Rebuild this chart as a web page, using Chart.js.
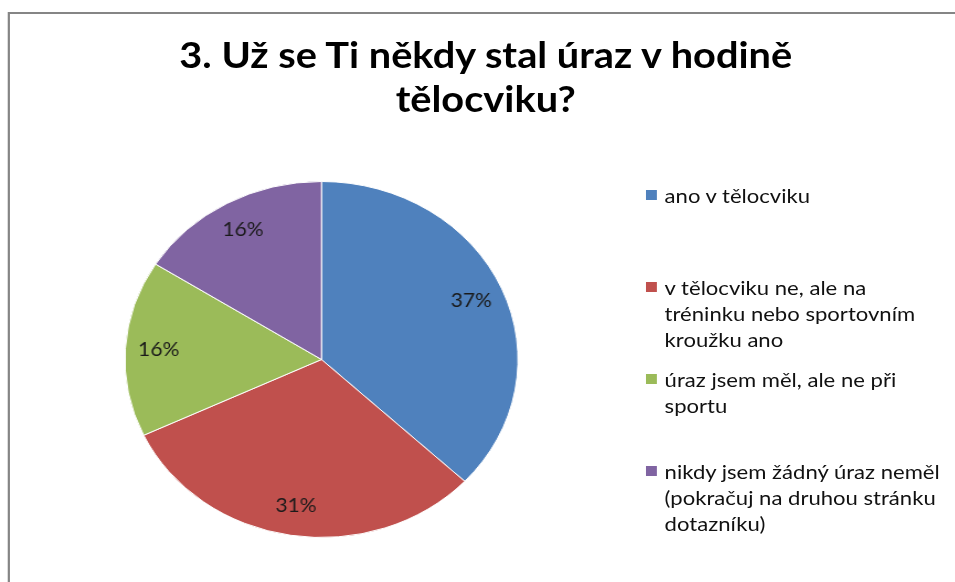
<!DOCTYPE html>
<html>
<head>
<meta charset="utf-8">
<script src="https://cdn.jsdelivr.net/npm/chart.js@4/dist/chart.umd.min.js"></script>
<style>
  html, body { margin: 0; padding: 0; background: #fff; overflow: hidden; width: 955px; height: 582px; }
  #stage { position: absolute; left: 0; top: 0; width: 865px; height: 582px; transform: scaleX(1.104); transform-origin: 0 0; }
  #frame { position: absolute; left: 7px; top: 12px; width: 1000px; height: 700px; border: 2px solid #858585; }
  #title { position: absolute; left: 140px; width: 600px; top: 31.6px; text-align: center;
           font-family: Lato, "Liberation Sans", sans-serif; font-weight: bold; font-size: 36px; line-height: 44px; color: #000; }
  #c { position: absolute; left: 0; top: 0; }
  .lg { position: absolute; left: 585px; font-family: Lato, "Liberation Sans", sans-serif; font-size: 20px; line-height: 26px; color: #111; white-space: nowrap; }
  .lg .sw { position: absolute; left: 0; top: 8px; width: 10px; height: 10px; }
  .lg .tx { position: absolute; left: 17px; top: 0; }
</style>
</head>
<body>
<div id="stage">
  <div id="frame"></div>
  <div id="title"></div>
  <canvas id="c" width="865" height="582"></canvas>
  <div id="legend"></div>
</div>
<script>
const titleLines = ["3. Už se Ti někdy stal úraz v hodině", "tělocviku?"];
const legendLines = [
  ["ano v tělocviku"],
  ["v tělocviku ne, ale na", "tréninku nebo sportovním", "kroužku ano"],
  ["úraz jsem měl, ale ne při", "sportu"],
  ["nikdy jsem žádný úraz neměl", "(pokračuj na druhou stránku", "dotazníku)"]
];
const categories = legendLines.map(l => l.join(" "));
const values = [37, 31, 16, 16];
const colors = ["#4F81BD", "#C0504D", "#9BBB59", "#8064A2"];

document.getElementById("title").innerHTML = titleLines.join("<br>");

const labelPlugin = {
  id: "pctLabels",
  afterDatasetsDraw(chart) {
    const ctx = chart.ctx;
    const meta = chart.getDatasetMeta(0);
    const total = values.reduce((a, b) => a + b, 0);
    ctx.save();
    ctx.font = "19px Lato, 'Liberation Sans', sans-serif";
    ctx.fillStyle = "#1a1a1a";
    ctx.textAlign = "center";
    ctx.textBaseline = "middle";
    meta.data.forEach((arc, i) => {
      const p = arc.getProps(["x", "y", "startAngle", "endAngle", "outerRadius"], true);
      const mid = (p.startAngle + p.endAngle) / 2;
      const r = p.outerRadius * 0.83;
      const pct = Math.round(values[i] / total * 100) + "%";
      ctx.fillText(pct, p.x + Math.cos(mid) * r, p.y + Math.sin(mid) * r);
    });
    ctx.restore();
  }
};

const chart = new Chart(document.getElementById("c"), {
  type: "pie",
  data: {
    labels: categories,
    datasets: [{
      data: values,
      backgroundColor: colors,
      borderColor: "#ffffff",
      borderWidth: 1,
      hoverOffset: 0
    }]
  },
  options: {
    responsive: false,
    animation: false,
    devicePixelRatio: 1,
    layout: { padding: { left: 112.7, right: 395.3, top: 181, bottom: 44 } },
    plugins: {
      legend: { display: false },
      title: { display: false },
      tooltip: { enabled: false }
    }
  },
  plugins: [labelPlugin]
});

const legendEl = document.getElementById("legend");
legendLines.forEach((lines, i) => {
  const item = document.createElement("div");
  item.className = "lg";
  item.style.top = (182.3 + 92 * i) + "px";
  const sw = document.createElement("div");
  sw.className = "sw";
  sw.style.background = chart.data.datasets[0].backgroundColor[i];
  const tx = document.createElement("div");
  tx.className = "tx";
  tx.innerHTML = lines.join("<br>");
  item.appendChild(sw);
  item.appendChild(tx);
  legendEl.appendChild(item);
});
</script>
</body>
</html>
